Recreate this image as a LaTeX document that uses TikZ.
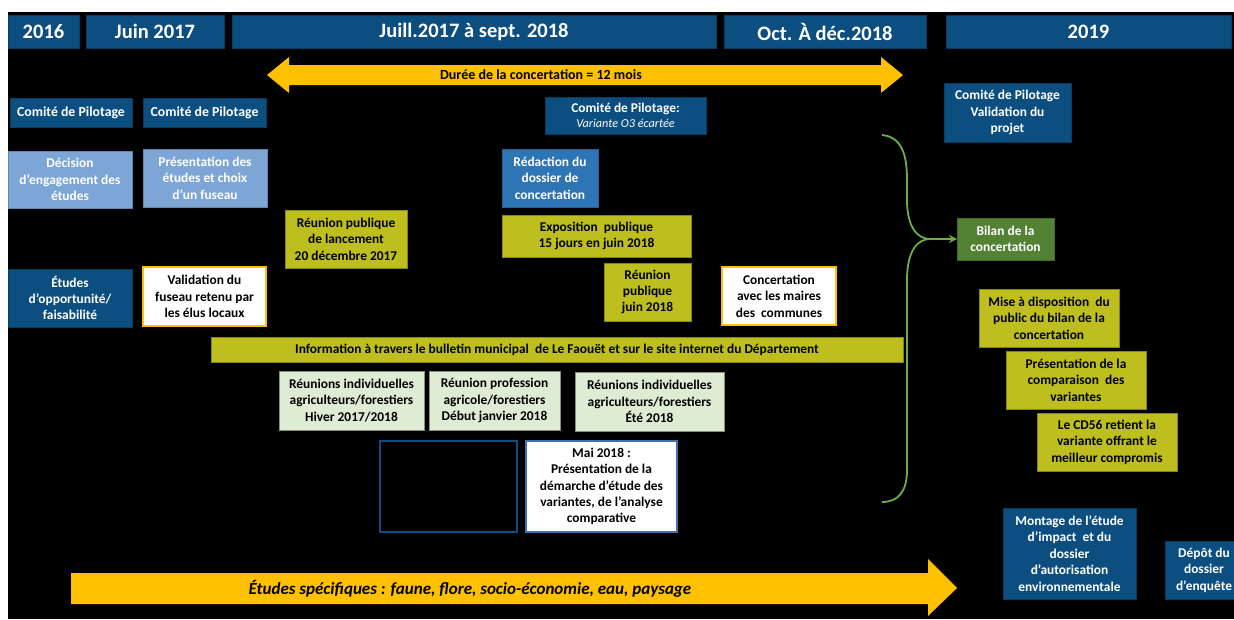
\documentclass[tikz,border=0pt]{standalone}
\usepackage{fontspec}
\setmainfont{Carlito}
\usetikzlibrary{arrows.meta}
\definecolor{hdrblue}{RGB}{12,78,128}
\definecolor{ltblue}{RGB}{125,166,214}
\definecolor{midblue}{RGB}{46,117,182}
\definecolor{olive}{RGB}{190,190,30}
\definecolor{palegreen}{RGB}{222,236,212}
\definecolor{gold}{RGB}{255,192,0}
\definecolor{bracegreen}{RGB}{112,173,71}
\definecolor{bilangreen}{RGB}{84,130,53}
\definecolor{maiblue}{RGB}{65,113,180}
\newcommand\mybox[7]{\node[#2, minimum width={(#5-#3)*1pt}, minimum height={(#6-#4)*1pt}] (#1) at ({(#3+#5)/2},{(#4+#6)/2}) {#7};}
\tikzset{
  box/.style={inner sep=0pt, outer sep=0pt, align=center, line width=0.6pt, font=\fontsize{13.4}{16.4}\selectfont\bfseries},
  hdr/.style={box, fill=hdrblue, draw=hdrblue!75!black, text=white, font=\fontsize{20.5}{22}\selectfont\bfseries},
  dkbox/.style={box, fill=hdrblue, draw=hdrblue!75!black, text=white},
  combox/.style={dkbox, font=\fontsize{13.8}{16.4}\selectfont\bfseries},
  ltbox/.style={box, fill=ltblue, draw=ltblue!80!black, text=white},
  midbox/.style={box, fill=midblue, draw=midblue!80!black, text=white},
  olbox/.style={box, fill=olive, draw=olive!70!black, text=black},
  pgbox/.style={box, fill=palegreen, draw=palegreen!60!black, text=black},
  whbox/.style={box, fill=white, draw=gold, line width=2.5pt, text=black},
  maibox/.style={box, fill=white, draw=maiblue, line width=1.5pt, text=black},
  emptybox/.style={box, fill=black, draw=hdrblue, line width=1.5pt},
  grbox/.style={box, fill=bilangreen, draw=bilangreen!80!black, text=white},
  brace/.style={bracegreen, line width=1.8pt},
}
\begin{document}
\begin{tikzpicture}[x=1pt,y=-1pt]
\clip (0,0) rectangle (1234,619);
\fill[white] (0,0) rectangle (1234,619);
\fill[black] (8,12) rectangle (1234,619);
% headers
\mybox{h1}{hdr}{8}{15}{79}{48}{2016}
\mybox{h2}{hdr}{86}{15}{224}{48}{Juin 2017}
\mybox{h3}{hdr}{232}{15}{716}{48}{Juill.2017 à sept. 2018}
\mybox{h4}{hdr}{724}{15}{926}{48}{Oct. À déc.2018}
\mybox{h5}{hdr}{946}{15}{1231}{48}{2019}
% duration arrow
\fill[gold] (267,75) -- (289,57) -- (289,65) -- (881,65) -- (881,57) -- (903,75) -- (881,93) -- (881,85) -- (289,85) -- (289,93) -- cycle;
\node[font=\fontsize{14}{16}\selectfont\bfseries, text=black] (duree) at (541,75) {Durée de la concertation = 12 mois};
% comités
\mybox{c1}{combox}{10}{98}{132}{127}{Comité de Pilotage}
\mybox{c2}{combox}{143}{98}{266}{127}{Comité de Pilotage}
\mybox{c3}{dkbox}{545}{97}{706}{134}{Comité de Pilotage:\\[-2pt]{\mdseries\itshape\fontsize{12.2}{14}\selectfont Variante O3 écartée}}
\mybox{c4}{dkbox}{944}{83}{1071}{142}{Comité de Pilotage\\Validation du\\projet}
% left columns
\mybox{d1}{ltbox}{8}{151}{132}{208}{Décision\\d’engagement des\\études}
\mybox{d2}{ltbox}{143}{149}{267}{207}{Présentation des\\études et choix\\d’un fuseau}
\mybox{et}{dkbox}{8}{269}{132}{327}{Études\\d’opportunité/\\faisabilité}
\mybox{val}{whbox}{143}{267}{266}{326}{Validation du\\fuseau retenu par\\les élus locaux}
% middle
\mybox{r1}{olbox}{285}{210}{407}{268}{Réunion publique\\de lancement\\20 décembre 2017}
\mybox{red}{midbox}{502}{149}{598}{207}{Rédaction du\\dossier de\\concertation}
\mybox{ex}{olbox}{502}{215}{691}{257}{Exposition\ \ publique\\15 jours en juin 2018}
\mybox{rj}{olbox}{604}{263}{691}{321}{Réunion\\publique\\juin 2018}
\mybox{cm}{whbox}{722}{267}{836}{325}{Concertation\\avec les maires\\des\ \ communes}
\mybox{info}{olbox}{211}{337}{903}{362}{Information à travers le bulletin municipal\ \ de Le Faouët et sur le site internet du Département}
\mybox{rh}{pgbox}{279}{371}{424}{430}{Réunions individuelles\\agriculteurs/forestiers\\Hiver 2017/2018}
\mybox{rp}{pgbox}{429}{371}{560}{430}{Réunion profession\\agricole/forestiers\\Début janvier 2018}
\mybox{re}{pgbox}{575}{372}{724}{431}{Réunions individuelles\\agriculteurs/forestiers\\Été 2018}
\mybox{emp}{emptybox}{380}{441}{517}{532}{}
\mybox{mai}{maibox}{526}{441}{677}{532}{Mai 2018 :\\Présentation de la\\démarche d’étude des\\variantes, de l’analyse\\comparative}
% right
\mybox{bil}{grbox}{957}{218}{1054}{260}{Bilan de la\\concertation}
\mybox{mise}{olbox}{979}{289}{1119}{347}{Mise à disposition\ \ du\\public du bilan de la\\concertation}
\mybox{pc}{olbox}{1006}{351}{1146}{409}{Présentation de la\\comparaison\ \ des\\variantes}
\mybox{cd}{olbox}{1037}{413}{1177}{471}{Le CD56 retient la\\variante offrant le\\meilleur compromis}
\mybox{mon}{dkbox}{1003}{508}{1136}{599}{Montage de l’étude\\d’impact\ \ et du\\dossier\\d’autorisation\\environnementale}
\mybox{dep}{dkbox}{1165}{541}{1243}{599}{Dépôt du\\dossier\\d’enquête}
% brace
\coordinate (bt) at (882,135);
\coordinate (bm) at (930,239);
\coordinate (bb) at (882,502);
\draw[brace] (bt) .. controls (902,137) and (907,155) .. (907,180) -- (907,200) .. controls (907,228) and (918,239) .. (bm) .. controls (918,239) and (907,250) .. (907,280) -- (907,470) .. controls (907,492) and (898,502) .. (bb);
\draw[brace, -{Stealth[length=8pt,width=8pt]}] (bm) -- (bil.west);
% bottom arrow
\fill[gold] (71,573) -- (928,573) -- (928,559) -- (957,588) -- (928,616) -- (928,604) -- (71,604) -- cycle;
\node[font=\fontsize{17}{19}\selectfont\bfseries\itshape, text=black] (etudes) at (470,589) {Études spécifiques : faune, flore, socio-économie, eau, paysage};
\end{tikzpicture}
\end{document}
